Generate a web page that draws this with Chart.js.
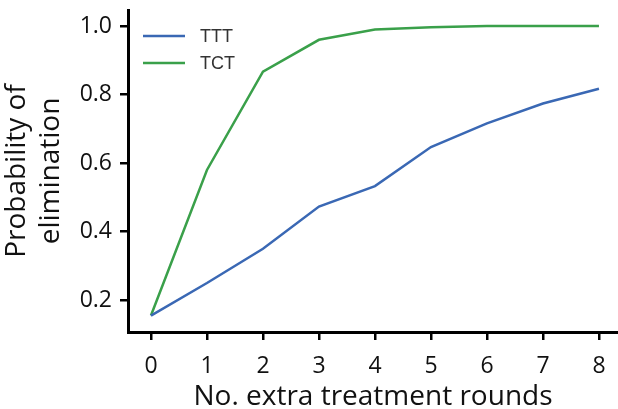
<!DOCTYPE html>
<html>
<head>
<meta charset="utf-8">
<script src="https://cdn.jsdelivr.net/npm/chart.js@4/dist/chart.umd.min.js"></script>
<style>
  html, body { margin: 0; padding: 0; background: #fff; }
  #wrap { width: 618px; height: 409px; }
</style>
</head>
<body>
<div id="wrap"><canvas id="myChart"></canvas></div>
<script>
// values
var rounds = [0, 1, 2, 3, 4, 5, 6, 7, 8];
var tttValues = [0.155, 0.25, 0.35, 0.473, 0.533, 0.647, 0.716, 0.774, 0.817];
var tctValues = [0.155, 0.58, 0.867, 0.96, 0.99, 0.997, 1.0, 1.0, 1.0];
var yTicks = [0.2, 0.4, 0.6, 0.8, 1.0];
var xTicks = [0, 1, 2, 3, 4, 5, 6, 7, 8];

function toPoints(values) {
    return rounds.map(function(r, i) {
        return { x: r, y: values[i] };
    });
}

var tickFont = { family: 'Open Sans', size: 23 };

// legend drawn inside the plot, top-left, like the original
var insideLegend = {
    id: 'insideLegend',
    afterDraw: function(chart) {
        var ctx = chart.ctx;
        var area = chart.chartArea;
        ctx.save();
        ctx.font = '18px "Liberation Sans", Arial, sans-serif';
        ctx.textBaseline = 'middle';
        chart.data.datasets.forEach(function(ds, i) {
            var y = area.top + 26 + i * 27;
            ctx.strokeStyle = ds.borderColor;
            ctx.lineWidth = 2.5;
            ctx.beginPath();
            ctx.moveTo(area.left + 15, y);
            ctx.lineTo(area.left + 57, y);
            ctx.stroke();
            ctx.fillStyle = '#333';
            ctx.fillText(ds.label, area.left + 72, y + 1);
        });
        ctx.restore();
    }
};

var ctx = document.getElementById('myChart').getContext('2d');
var myChart = new Chart(ctx, {
    type: 'line',
    data: {
        datasets: [{
            label: 'TTT',
            data: toPoints(tttValues),
            borderColor: '#3a68b4',
            borderWidth: 2.5,
            pointRadius: 0,
            tension: 0
        }, {
            label: 'TCT',
            data: toPoints(tctValues),
            borderColor: '#3aa04a',
            borderWidth: 2.5,
            pointRadius: 0,
            tension: 0
        }]
    },
    options: {
        responsive: true,
        maintainAspectRatio: false,
        animation: false,
        layout: { padding: { top: 10, right: 0, left: 0, bottom: 0 } },
        plugins: {
            legend: { display: false },
            tooltip: { enabled: false }
        },
        scales: {
            x: {
                type: 'linear',
                min: -0.41,
                max: 8.34,
                afterBuildTicks: function(scale) {
                    scale.ticks = xTicks.map(function(v) { return { value: v }; });
                },
                afterFit: function(scale) {
                    scale.height = 77;
                    scale.paddingLeft = 0;
                    scale.paddingRight = 0;
                },
                grid: {
                    display: true,
                    drawOnChartArea: false,
                    drawTicks: true,
                    tickLength: 8,
                    color: '#000',
                    lineWidth: 2.5
                },
                border: { display: true, color: '#000', width: 3 },
                ticks: { color: '#111', font: tickFont, padding: 13, maxRotation: 0 },
                title: {
                    display: true,
                    text: 'No. extra treatment rounds',
                    color: '#111',
                    font: { family: 'Open Sans', size: 28, lineHeight: 0.85 },
                    padding: { top: 0, bottom: 0 }
                }
            },
            y: {
                min: 0.107,
                max: 1.047,
                afterBuildTicks: function(scale) {
                    scale.ticks = yTicks.map(function(v) { return { value: v }; });
                },
                afterFit: function(scale) {
                    scale.width = 128;
                    scale.paddingTop = 0;
                    scale.paddingBottom = 0;
                },
                grid: {
                    display: true,
                    drawOnChartArea: false,
                    drawTicks: true,
                    tickLength: 8,
                    color: '#000',
                    lineWidth: 2.5
                },
                border: { display: true, color: '#000', width: 3 },
                ticks: {
                    color: '#111',
                    font: tickFont,
                    padding: 8,
                    callback: function(v) { return v.toFixed(1); }
                },
                title: {
                    display: true,
                    text: ['Probability of', 'elimination'],
                    color: '#111',
                    font: { family: 'Open Sans', size: 28, lineHeight: 1.18 },
                    padding: { top: 1, bottom: 0 }
                }
            }
        }
    },
    plugins: [insideLegend]
});
</script>
</body>
</html>
